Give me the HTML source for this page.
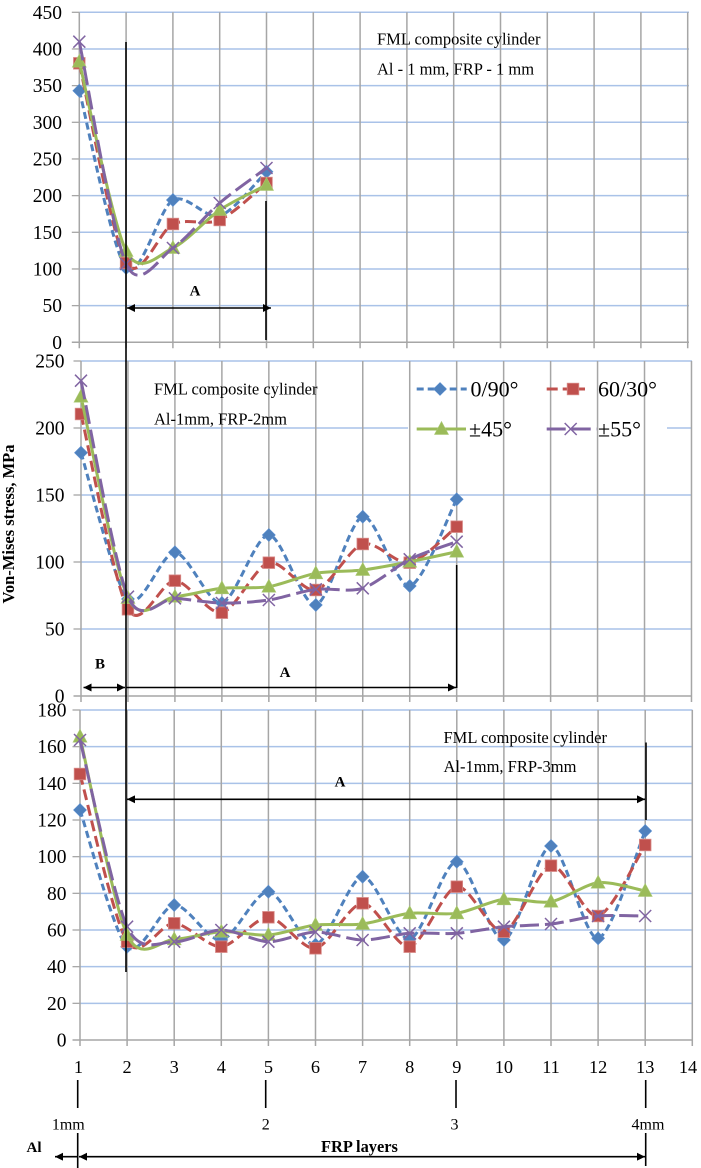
<!DOCTYPE html>
<html><head><meta charset="utf-8"><style>
html,body{margin:0;padding:0;background:#fff;}
svg{display:block;font-family:"Liberation Serif","Times New Roman",serif;}
svg text{font-family:"Liberation Serif","Times New Roman",serif;fill:#000;}
.yl text{font-family:"Liberation Serif",serif;font-size:19.5px;text-anchor:end;}
.xl text{font-family:"Liberation Serif",serif;font-size:18.3px;text-anchor:middle;}
.ann{font-family:"Liberation Serif",serif;font-size:16.5px;}
.lg{font-family:"Liberation Serif",serif;font-size:22px;}
.b{font-family:"Liberation Serif",serif;font-weight:bold;}
</style></head><body>
<svg id="s" width="701" height="1168" viewBox="0 0 701 1168" xmlns="http://www.w3.org/2000/svg" font-family="Liberation Serif, serif">
<defs>
<marker id="ah" viewBox="0 0 10 10" refX="10" refY="5" markerWidth="9" markerHeight="8" markerUnits="userSpaceOnUse" orient="auto-start-reverse"><path d="M0,0 L10,5 L0,10 z" fill="#000"/></marker>
</defs>
<rect width="701" height="1168" fill="#fff"/>
<g id="grid"></g>
<g id="series"></g>

<g class="yl" font-family="Liberation Serif, serif" font-size="19.5" text-anchor="end">
<text x="62" y="19">450</text><text x="62" y="55.5">400</text><text x="62" y="92.2">350</text><text x="62" y="128.9">300</text><text x="62" y="165.6">250</text><text x="62" y="202.2">200</text><text x="62" y="238.9">150</text><text x="62" y="275.6">100</text><text x="62" y="312.2">50</text><text x="62" y="349">0</text>
</g>
<g class="yl" font-family="Liberation Serif, serif" font-size="19.5" text-anchor="end">
<text x="64.5" y="367.5">250</text><text x="64.5" y="434.5">200</text><text x="64.5" y="501.5">150</text><text x="64.5" y="568.5">100</text><text x="64.5" y="635.5">50</text><text x="64.5" y="702.5">0</text>
</g>
<g class="yl" font-family="Liberation Serif, serif" font-size="19.5" text-anchor="end">
<text x="66.5" y="716.5">180</text><text x="66.5" y="753.2">160</text><text x="66.5" y="789.8">140</text><text x="66.5" y="826.5">120</text><text x="66.5" y="863.2">100</text><text x="66.5" y="899.8">80</text><text x="66.5" y="936.5">60</text><text x="66.5" y="973.2">40</text><text x="66.5" y="1009.8">20</text><text x="66.5" y="1046.5">0</text>
</g>
<g class="xl" font-family="Liberation Serif, serif" font-size="18.3" text-anchor="middle">
<text x="78.5" y="1073">1</text><text x="127.1" y="1073">2</text><text x="174.2" y="1073">3</text><text x="221.3" y="1073">4</text><text x="268.4" y="1073">5</text><text x="315.5" y="1073">6</text><text x="362.6" y="1073">7</text><text x="409.7" y="1073">8</text><text x="456.8" y="1073">9</text><text x="503.9" y="1073">10</text><text x="551" y="1073">11</text><text x="598.1" y="1073">12</text><text x="645.2" y="1073">13</text><text x="688" y="1073">14</text>
</g>

<text class="b" font-family="Liberation Serif, serif" font-weight="bold" font-size="16.5" transform="translate(14,524) rotate(-90)" text-anchor="middle">Von-Mises stress, MPa</text>

<text class="ann" font-family="Liberation Serif, serif" font-size="16.5" x="377" y="44.5">FML composite cylinder</text>
<text class="ann" font-family="Liberation Serif, serif" font-size="16.5" x="377" y="74.5">Al - 1 mm, FRP - 1 mm</text>
<text class="ann" font-family="Liberation Serif, serif" font-size="16.5" x="154" y="394.5">FML composite cylinder</text>
<text class="ann" font-family="Liberation Serif, serif" font-size="16.5" x="154" y="424.5">Al-1mm, FRP-2mm</text>
<text class="ann" font-family="Liberation Serif, serif" font-size="16.5" x="443.5" y="743">FML composite cylinder</text>
<text class="ann" font-family="Liberation Serif, serif" font-size="16.5" x="443.5" y="772">Al-1mm, FRP-3mm</text>

<g id="legend"></g>
<text class="lg" font-family="Liberation Serif, serif" font-size="22" x="470.5" y="396.5">0/90°</text>
<text class="lg" font-family="Liberation Serif, serif" font-size="22" x="598" y="396.5">60/30°</text>
<text class="lg" font-family="Liberation Serif, serif" font-size="22" x="469" y="436.5">±45°</text>
<text class="lg" font-family="Liberation Serif, serif" font-size="22" x="598" y="436.5">±55°</text>

<g stroke="#000" stroke-width="1.6" fill="none">
<line x1="126" y1="42" x2="126" y2="972"/>
<line x1="266" y1="201" x2="266" y2="340"/>
<line x1="127" y1="308" x2="271" y2="308" marker-start="url(#ah)" marker-end="url(#ah)"/>
<line x1="456.7" y1="565" x2="456.7" y2="688"/>
<line x1="126" y1="687.5" x2="456" y2="687.5" marker-end="url(#ah)"/>
<line x1="83.5" y1="687.5" x2="125" y2="687.5" marker-start="url(#ah)" marker-end="url(#ah)"/>
<line x1="646" y1="742.5" x2="646" y2="820"/>
<line x1="127" y1="799.3" x2="645" y2="799.3" marker-start="url(#ah)" marker-end="url(#ah)"/>
<line x1="77.7" y1="1080" x2="77.7" y2="1108"/>
<line x1="265.7" y1="1080" x2="265.7" y2="1108"/>
<line x1="456" y1="1080" x2="456" y2="1108"/>
<line x1="645.7" y1="1080" x2="645.7" y2="1108"/>
<line x1="77.7" y1="1133" x2="77.7" y2="1168"/>
<line x1="645.7" y1="1133" x2="645.7" y2="1166"/>
<line x1="77" y1="1156.7" x2="55" y2="1156.7" marker-end="url(#ah)"/>
<line x1="79" y1="1156.7" x2="645" y2="1156.7" marker-start="url(#ah)" marker-end="url(#ah)"/>
</g>
<g font-family="Liberation Serif, serif" font-weight="bold">
<text font-size="15" x="195" y="295.5" text-anchor="middle">A</text>
<text font-size="15" x="100" y="668.5" text-anchor="middle">B</text>
<text font-size="15" x="285" y="677" text-anchor="middle">A</text>
<text font-size="15" x="340" y="786.5" text-anchor="middle">A</text>
<text font-size="15" x="26.5" y="1152">Al</text>
<text font-size="16.4" x="321" y="1152">FRP layers</text>
</g>
<g font-family="Liberation Serif, serif" font-size="16" text-anchor="middle">
<text x="68.3" y="1129.5">1mm</text>
<text x="265.7" y="1129.5">2</text>
<text x="454.5" y="1129.5">3</text>
<text x="648" y="1129.5">4mm</text>
</g>
</svg>
<script>
(function(){
var NS="http://www.w3.org/2000/svg";
function el(parent,tag,attrs){var e=document.createElementNS(NS,tag);for(var k in attrs)e.setAttribute(k,attrs[k]);parent.appendChild(e);return e;}
var grid=document.getElementById('grid'), ser=document.getElementById('series'), leg=document.getElementById('legend');
var HB="#a9c2e8", VG="#a6a6a6";
var panels=[
 {x0:79.3,dx:46.8,xr:689,ytop:12.3,ybot:342.3,n:9},
 {x0:81,dx:46.96,xr:692,ytop:361,ybot:696,n:5,gap:[408,667,1]},
 {x0:80,dx:47.1,xr:692.5,ytop:710,ybot:1040,n:9}
];
panels.forEach(function(p){
 var step=(p.ybot-p.ytop)/p.n;
 for(var k=0;k<p.n;k++){
  var y=p.ytop+k*step;
  if(p.gap && k===p.gap[2]){
    el(grid,'line',{x1:p.x0,y1:y,x2:p.gap[0],y2:y,stroke:HB,'stroke-width':1.5});
    el(grid,'line',{x1:p.gap[1],y1:y,x2:p.xr,y2:y,stroke:HB,'stroke-width':1.5});
  } else el(grid,'line',{x1:p.x0,y1:y,x2:p.xr,y2:y,stroke:HB,'stroke-width':1.5});
  el(grid,'line',{x1:p.x0-7.5,y1:y,x2:p.x0,y2:y,stroke:VG,'stroke-width':1.3});
 }
 el(grid,'line',{x1:p.x0-7.5,y1:p.ybot,x2:p.xr,y2:p.ybot,stroke:VG,'stroke-width':1.5});
 for(var i=0;i<14;i++){
  var x=p.x0+i*p.dx;
  el(grid,'line',{x1:x,y1:p.ytop,x2:x,y2:p.ybot+6,stroke:VG,'stroke-width':1.5});
 }
});
var C={b:"#4f81bd",r:"#c0504d",g:"#9bbb59",p:"#8064a2"};
var DASH={b:"7 4",r:"11 5",g:"",p:"19 6"};
var T=7;
function smooth(pts){
 var d="M"+pts[0][0]+","+pts[0][1];
 for(var i=0;i<pts.length-1;i++){
  var p0=pts[i-1]||pts[i],p1=pts[i],p2=pts[i+1],p3=pts[i+2]||pts[i+1];
  var c1x=p1[0]+(p2[0]-p0[0])/T,c1y=p1[1]+(p2[1]-p0[1])/T;
  var c2x=p2[0]-(p3[0]-p1[0])/T,c2y=p2[1]-(p3[1]-p1[1])/T;
  d+=" C"+c1x.toFixed(2)+","+c1y.toFixed(2)+" "+c2x.toFixed(2)+","+c2y.toFixed(2)+" "+p2[0].toFixed(2)+","+p2[1].toFixed(2);
 }
 return d;
}
function marker(g,t,x,y){
 if(t==='b') el(g,'polygon',{points:[x,y-6.5,x+6.5,y,x,y+6.5,x-6.5,y].join(' '),fill:C.b,stroke:"#5b8fd0",'stroke-width':0.6});
 else if(t==='r') el(g,'rect',{x:x-5.8,y:y-5.8,width:11.6,height:11.6,fill:C.r,stroke:"#d88a88",'stroke-width':0.8});
 else if(t==='g') el(g,'polygon',{points:[x,y-7.5,x+7,y+5.5,x-7,y+5.5].join(' '),fill:C.g,stroke:"#a9c873",'stroke-width':0.6});
 else {el(g,'line',{x1:x-6,y1:y-6,x2:x+6,y2:y+6,stroke:C.p,'stroke-width':1.5});el(g,'line',{x1:x-6,y1:y+6,x2:x+6,y2:y-6,stroke:C.p,'stroke-width':1.5});}
}
var data=[
 {p:0,s:{
  b:[90.7,268,200,216,171.7],
  r:[63.3,263,224,220,183],
  g:[61.7,251,248,210,185],
  p:[41.7,264,248,203,168]}},
 {p:1,s:{
  b:[452.7,599,552.3,603,535,605,516.7,586,499.3],
  r:[414,609.3,580.7,612.7,562.7,590,544,562.7,526.7],
  g:[396.7,598,596.7,588.3,586.7,573.3,570,561.7,551.7],
  p:[380.7,596.7,598.3,603,600,589.3,588.3,559.3,541.7]}},
 {p:2,s:{
  b:[810,946.7,905,940,891.7,944.7,876.7,939,861.7,940,846,938.3,831],
  r:[774,941.7,923.3,946.7,917.3,948.3,903.3,946.7,886.7,931.7,865.7,916,845],
  g:[736.7,935,939.3,931.7,935,925,924,913.3,913.3,899.3,901.7,882.7,891],
  p:[740,926.7,941.7,930,941.7,932,940,933.3,933.3,926.7,924,916,916]}}
];
data.forEach(function(D){
 var p=panels[D.p];
 ['b','r','g','p'].forEach(function(k){
  var pts=D.s[k].map(function(y,i){return [p.x0+i*p.dx,y];});
  var g=el(ser,'g',{});
  var a={d:smooth(pts),fill:'none',stroke:C[k],'stroke-width':3,'stroke-linejoin':'round'};
  if(DASH[k]) a['stroke-dasharray']=DASH[k];
  el(g,'path',a);
  pts.forEach(function(q){marker(g,k,q[0],q[1]);});
 });
});
var L=[['b',416.7,466.7,440,389],['r',546.7,585,573,389],['g',416.7,466,441.5,429],['p',546.7,597,570.7,429]];
L.forEach(function(l){
 var a={x1:l[1],y1:l[4],x2:l[2],y2:l[4],stroke:C[l[0]],'stroke-width':3};
 if(DASH[l[0]]) a['stroke-dasharray']=DASH[l[0]];
 el(leg,'line',a);
 marker(leg,l[0],l[3],l[4]);
});
})();
</script>
</body></html>
